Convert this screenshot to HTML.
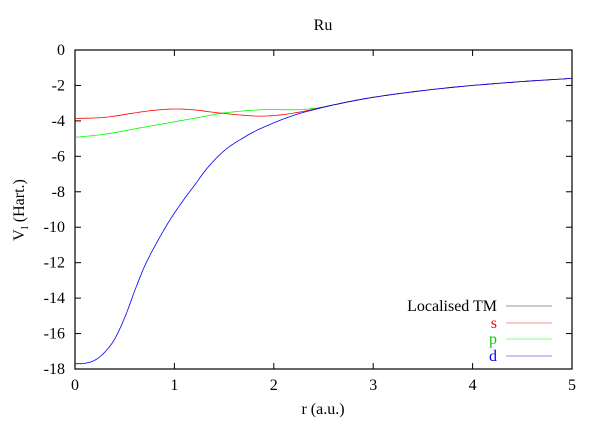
<!DOCTYPE html><html><head><style>body{margin:0;background:#fff}svg text{font-family:"Liberation Serif",serif;font-size:16px}</style></head><body>
<svg id="s" width="600" height="420" xmlns="http://www.w3.org/2000/svg">
<rect width="600" height="420" fill="#fff"/>
<text x="323" y="30" text-anchor="middle">Ru</text>
<g id="ax" stroke="#000" fill="none"></g>
<g id="lab"></g>
<text x="323" y="414" text-anchor="middle">r (a.u.)</text>
<text transform="translate(24,210) rotate(-90)" text-anchor="middle">V<tspan font-size="11" dy="4">l</tspan><tspan dy="-4"> (Hart.)</tspan></text>
<g id="cur" fill="none" stroke-width="0.8"></g>
<text x="497" y="311" text-anchor="end">Localised TM</text>
<line x1="506" y1="306" x2="552" y2="306" stroke="#777" stroke-width="0.8"/>
<text x="497" y="328" text-anchor="end" fill="#f00">s</text>
<line x1="506" y1="323" x2="552" y2="323" stroke="#f66" stroke-width="0.8"/>
<text x="497" y="344" text-anchor="end" fill="#0c0">p</text>
<line x1="506" y1="339" x2="552" y2="339" stroke="#6f6" stroke-width="0.8"/>
<text x="497" y="361" text-anchor="end" fill="#00f">d</text>
<line x1="506" y1="356" x2="552" y2="356" stroke="#66f" stroke-width="0.8"/>
</svg>
<script>
const L=75,R=572,T=50,B=369;
const X=r=>L+r*(R-L)/5, Y=v=>T+(-v)*(B-T)/18;
let ax=document.getElementById('ax'),lab=document.getElementById('lab'),h='',t='';
h+=`<rect x="${L}" y="${T}" width="${R-L}" height="${B-T}" stroke-width="1.2"/>`;
for(let i=0;i<=5;i++){let x=X(i);h+=`<line x1="${x}" y1="${B}" x2="${x}" y2="${B-6}"/><line x1="${x}" y1="${T}" x2="${x}" y2="${T+6}"/>`;t+=`<text x="${x}" y="${B+21}" text-anchor="middle">${i}</text>`;}
for(let v=0;v>=-18;v-=2){let y=Y(v);h+=`<line x1="${L}" y1="${y}" x2="${L+6}" y2="${y}"/><line x1="${R}" y1="${y}" x2="${R-6}" y2="${y}"/>`;t+=`<text x="${L-10}" y="${y+5}" text-anchor="end">${v}</text>`;}
ax.innerHTML=h;lab.innerHTML=t;
const tail=[[2.6,-3.1],[3,-2.67],[3.5,-2.29],[4,-2.0],[4.5,-1.78],[5,-1.6]];
const d=[[0,-17.7],[0.1,-17.68],[0.2,-17.5],[0.3,-17.05],[0.4,-16.3],[0.5,-15.1],[0.6,-13.6],[0.7,-12.2],[0.8,-11.1],[0.9,-10.1],[1.0,-9.2],[1.1,-8.4],[1.2,-7.65],[1.34,-6.6],[1.51,-5.64],[1.68,-5.0],[1.88,-4.4],[2.21,-3.67]].concat(tail);
const s=[[0,-3.86],[0.3,-3.8],[0.6,-3.55],[0.8,-3.4],[1.0,-3.33],[1.2,-3.38],[1.5,-3.58],[1.88,-3.73],[2.21,-3.55]].concat(tail);
const p=[[0,-4.93],[0.3,-4.75],[0.6,-4.45],[1.0,-4.05],[1.25,-3.8],[1.5,-3.55],[1.88,-3.37],[2.21,-3.37],[2.4,-3.3]].concat(tail);
function pts(a){let o=[];for(let i=0;i<a.length-1;i++){let [r0,v0]=a[i],[r1,v1]=a[i+1];let p0=a[i-1]||a[i],p3=a[i+2]||a[i+1];for(let k=0;k<10;k++){let u=k/10;let cr=(q0,q1,q2,q3)=>0.5*((2*q1)+(-q0+q2)*u+(2*q0-5*q1+4*q2-q3)*u*u+(-q0+3*q1-3*q2+q3)*u*u*u);o.push(X(cr(p0[0],r0,r1,p3[0])).toFixed(1)+','+Y(cr(p0[1],v0,v1,p3[1])).toFixed(1));}}let z=a[a.length-1];o.push(X(z[0])+','+Y(z[1]));return o.join(' ');}
document.getElementById('cur').innerHTML=`<polyline points="${pts(p)}" stroke="#0f0"/><polyline points="${pts(s)}" stroke="#f00"/><polyline points="${pts(d)}" stroke="#00f"/>`;
</script></body></html>
